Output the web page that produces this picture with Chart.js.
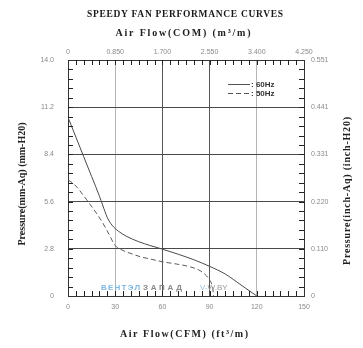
<!DOCTYPE html>
<html>
<head>
<meta charset="utf-8">
<script src="https://cdn.jsdelivr.net/npm/chart.js@4.4.1/dist/chart.umd.min.js"></script>
<style>
  html, body { margin: 0; padding: 0; background: #fff; }
  #wrap { width: 363px; height: 348px; }
</style>
</head>
<body>
<div id="wrap"><canvas id="fanChart" width="363" height="348"></canvas></div>
<script>
// Axis ticks
const cfmTicks = [0, 30, 60, 90, 120, 150];
const m3Ticks = [0, 0.85, 1.7, 2.55, 3.4, 4.25];
const m3Labels = ['0', '0.850', '1.700', '2.550', '3.400', '4.250'];
const mmTicks = [0, 2.8, 5.6, 8.4, 11.2, 14.0];
const mmLabels = ['0', '2.8', '5.6', '8.4', '11.2', '14.0'];
const inchTicks = [0, 0.110, 0.220, 0.331, 0.441, 0.551];
const inchLabels = ['0', '0.110', '0.220', '0.331', '0.441', '0.551'];

// 60Hz curve (CFM, mm-Aq)
const cfm60 = [0, 5, 10, 15, 20, 22, 25, 28, 32, 37, 45, 52, 60, 70, 80, 90, 100, 110, 120];
const mm60 = [10.6, 9.43, 8.26, 7.09, 5.92, 5.4, 4.65, 4.2, 3.85, 3.55, 3.22, 3.0, 2.78, 2.48, 2.15, 1.76, 1.3, 0.65, 0];

// 50Hz curve (CFM, mm-Aq)
const cfm50 = [0, 4, 12, 21, 25, 30, 35, 40, 46, 52, 60, 70, 78, 84, 88, 90, 92, 92.5];
const mm50 = [6.88, 6.62, 5.69, 4.5, 3.85, 3.0, 2.7, 2.52, 2.33, 2.2, 2.03, 1.88, 1.72, 1.5, 1.2, 0.95, 0.45, 0];

const seriesNames = [': 60Hz', ': 50Hz'];

// vertical grid shades as in the scan (light at 30 and 120)
const vGridColors = ['#333', '#b5b5b5', '#555', '#555', '#b5b5b5', '#333'];

function toPoints(xs, ys) {
    return xs.map((x, i) => ({ x: x, y: ys[i] }));
}

const tickFont = { family: "'Liberation Sans Narrow', 'Liberation Sans', sans-serif", size: 7 };
const tickColor = '#8a8a8a';

function fixTicks(values) {
    return function(scale) {
        scale.ticks = values.map(v => ({ value: v }));
    };
}

// draw text stretched to a given width, centred on (cx, cy)
function fitText(ctx, text, cx, cy, width, font, color) {
    ctx.font = font;
    ctx.letterSpacing = '0px';
    const w = ctx.measureText(text).width;
    const sp = (width - w) / Math.max(text.length - 1, 1);
    ctx.letterSpacing = sp + 'px';
    ctx.fillStyle = color;
    ctx.textAlign = 'left';
    ctx.textBaseline = 'middle';
    ctx.fillText(text, cx - width / 2, cy);
    ctx.letterSpacing = '0px';
}

const decorPlugin = {
    id: 'decor',
    afterDraw(chart) {
        const ctx = chart.ctx;
        const a = chart.chartArea;
        const sx = chart.scales.x;
        const sy = chart.scales.y;
        ctx.save();

        // minor tick marks, pointing into the plot
        ctx.strokeStyle = '#222';
        ctx.lineWidth = 1;
        ctx.beginPath();
        for (let v = 5; v < 150; v += 5) {
            const px = Math.round(sx.getPixelForValue(v)) + 0.5;
            ctx.moveTo(px, a.bottom);
            ctx.lineTo(px, a.bottom - 5);
            ctx.moveTo(px, a.top);
            ctx.lineTo(px, a.top + 5);
        }
        for (let i = 1; i < 25; i++) {
            const py = Math.round(sy.getPixelForValue(i * 0.56)) + 0.5;
            ctx.moveTo(a.left, py);
            ctx.lineTo(a.left + 5, py);
            ctx.moveTo(a.right, py);
            ctx.lineTo(a.right - 5, py);
        }
        ctx.stroke();

        // legend
        const lx = 228, ly = 84;
        ctx.strokeStyle = '#555';
        ctx.beginPath();
        ctx.moveTo(lx, ly + 0.5);
        ctx.lineTo(lx + 22, ly + 0.5);
        ctx.stroke();
        ctx.setLineDash([5, 3]);
        ctx.beginPath();
        ctx.moveTo(lx, ly + 9.5);
        ctx.lineTo(lx + 22, ly + 9.5);
        ctx.stroke();
        ctx.setLineDash([]);
        ctx.font = "bold 8px 'Liberation Sans', sans-serif";
        ctx.fillStyle = '#333';
        ctx.textAlign = 'left';
        ctx.textBaseline = 'middle';
        ctx.fillText(seriesNames[0], lx + 23, ly + 1);
        ctx.fillText(seriesNames[1], lx + 23, ly + 10);

        // titles
        const serif = "bold 10px 'Liberation Serif', serif";
        fitText(ctx, 'SPEEDY FAN PERFORMANCE CURVES', 185, 15, 196, "bold 9.5px 'Liberation Serif', serif", '#1a1a1a');
        fitText(ctx, 'Air Flow(COM) (m\u00b3/m)', 183, 33, 135, serif, '#222');
        fitText(ctx, 'Air Flow(CFM) (ft\u00b3/m)', 184, 334, 128, serif, '#222');

        ctx.save();
        ctx.translate(22, 184);
        ctx.rotate(-Math.PI / 2);
        fitText(ctx, 'Pressure(mm-Aq) (mm-H20)', 0, 0, 123, serif, '#222');
        ctx.restore();

        ctx.save();
        ctx.translate(347, 191);
        ctx.rotate(-Math.PI / 2);
        fitText(ctx, 'Pressure(inch-Aq) (inch-H20)', 0, 0, 148, serif, '#222');
        ctx.restore();

        // watermark
        const wm = "bold 8px 'Liberation Sans', sans-serif";
        fitText(ctx, '\u0412\u0415\u041d\u0422\u042d\u041b', 120.5, 288, 39, wm, '#7db8e2');
        fitText(ctx, '\u0417\u0410\u041f\u0410\u0414', 162.5, 288, 39, wm, '#8a8a8a');
        ctx.font = "8px 'Liberation Sans', sans-serif";
        ctx.textAlign = 'left';
        ctx.fillStyle = '#9cc4e4';
        ctx.fillText('V-', 200, 288);
        const vw = ctx.measureText('V-').width;
        ctx.fillStyle = '#9a9a9a';
        ctx.fillText('W.BY', 200 + vw, 288);

        ctx.restore();
    }
};

const ctx = document.getElementById('fanChart').getContext('2d');
new Chart(ctx, {
    type: 'line',
    data: {
        datasets: [{
            label: '60Hz',
            data: toPoints(cfm60, mm60),
            borderColor: '#4a4a4a',
            borderWidth: 1,
            pointRadius: 0,
            fill: false,
            cubicInterpolationMode: 'monotone',
            xAxisID: 'x',
            yAxisID: 'y'
        }, {
            label: '50Hz',
            data: toPoints(cfm50, mm50),
            borderColor: '#5a5a5a',
            borderWidth: 1,
            borderDash: [5, 3],
            pointRadius: 0,
            fill: false,
            cubicInterpolationMode: 'monotone',
            xAxisID: 'x',
            yAxisID: 'y'
        }]
    },
    options: {
        responsive: false,
        animation: false,
        layout: { padding: 0 },
        plugins: {
            legend: { display: false },
            tooltip: { enabled: false },
            title: { display: false }
        },
        scales: {
            x: {
                type: 'linear',
                position: 'bottom',
                min: 0,
                max: 150,
                afterBuildTicks: fixTicks(cfmTicks),
                afterFit: function(s) { s.height = 52; },
                ticks: {
                    autoSkip: false, maxRotation: 0, padding: 7,
                    font: tickFont, color: tickColor,
                    callback: (v, i) => String(cfmTicks[i])
                },
                grid: {
                    color: c => vGridColors[c.index] || '#555',
                    lineWidth: 1, drawTicks: false
                },
                border: { color: '#333', width: 1 }
            },
            x2: {
                type: 'linear',
                position: 'top',
                min: 0,
                max: 4.25,
                afterBuildTicks: fixTicks(m3Ticks),
                afterFit: function(s) { s.height = 60; },
                ticks: {
                    autoSkip: false, maxRotation: 0, padding: 4,
                    font: tickFont, color: tickColor,
                    callback: (v, i) => m3Labels[i]
                },
                grid: { display: false, drawTicks: false },
                border: { color: '#333', width: 1 }
            },
            y: {
                type: 'linear',
                position: 'left',
                min: 0,
                max: 14,
                afterBuildTicks: fixTicks(mmTicks),
                afterFit: function(s) { s.width = 68; },
                ticks: {
                    autoSkip: false, padding: 14,
                    font: tickFont, color: tickColor,
                    callback: (v, i) => mmLabels[i]
                },
                grid: { color: '#4a4a4a', lineWidth: 1, drawTicks: false },
                border: { color: '#333', width: 1 }
            },
            y2: {
                type: 'linear',
                position: 'right',
                min: 0,
                max: 0.551,
                afterBuildTicks: fixTicks(inchTicks),
                afterFit: function(s) { s.width = 59; },
                ticks: {
                    autoSkip: false, padding: 7,
                    font: tickFont, color: tickColor,
                    callback: (v, i) => inchLabels[i]
                },
                grid: { display: false, drawTicks: false },
                border: { color: '#333', width: 1 }
            }
        }
    },
    plugins: [decorPlugin]
});
</script>
</body>
</html>
